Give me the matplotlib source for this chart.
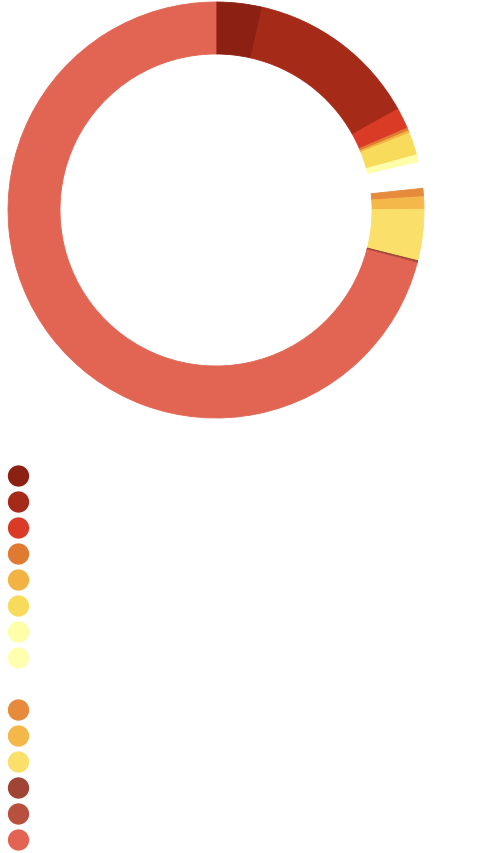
import matplotlib
matplotlib.use("Agg")
import matplotlib.pyplot as plt

# Data (slice sizes, in degrees of arc)
categories = ["A1", "A2", "A3", "A4", "A5", "A6", "A7", "A8", "gap",
              "B1", "B2", "B3", "B4", "B5", "B6"]
values = [12.9, 48.1, 5.8, 0.8, 0.7, 6.3, 1.9, 0.3, 7.2,
          2.3, 3.5, 14.3, 0.4, 0.3, 255.2]
colors = ["#8B2013", "#A52A17", "#DA3B26", "#E07A30", "#F2B342", "#F9DB5C",
          "#FFFFAA", "#FFFFB0", "#FFFFFF",
          "#E68A3C", "#F4B84A", "#FAE06A", "#A04436", "#B85040", "#E26553"]

W, H = 480, 854
fig = plt.figure(figsize=(W / 100, H / 100), dpi=100)

# Donut
ax = fig.add_axes([8 / W, (H - 419) / H, 416 / W, 416 / H])
wedges, _ = ax.pie(values, colors=colors, startangle=90, counterclock=False,
                   radius=1.0, wedgeprops=dict(width=0.25, linewidth=0.6))
for w, c in zip(wedges, colors):
    w.set_edgecolor(c)
ax.set_xlim(-1, 1)
ax.set_ylim(-1, 1)
ax.set_aspect("equal")
ax.axis("off")

# Legend (markers only)
lax = fig.add_axes([0, (H - 854) / H, 1, 390 / H])
idx = list(range(len(categories)))
lax.scatter([18.5] * len(idx), idx, s=235, c=colors, linewidths=0)
lax.set_xlim(0, W)
lax.set_ylim(len(idx) - 0.5, -0.5)
lax.axis("off")

fig.savefig("out.png", dpi=100)
